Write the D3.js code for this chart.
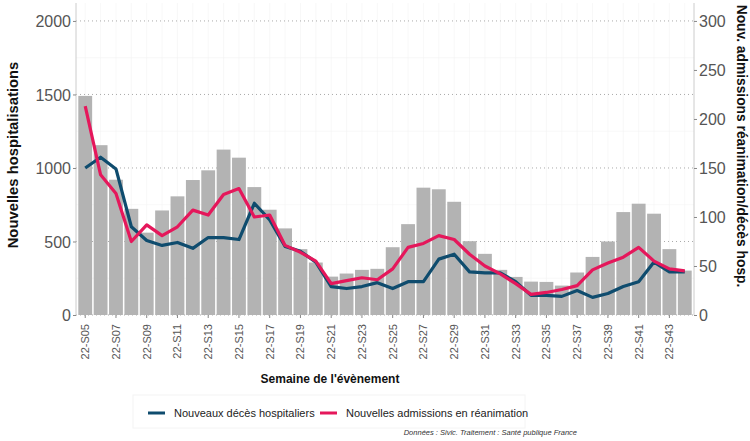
<!DOCTYPE html>
<meta charset="utf-8" />
<style>
  body {
    margin: 0;
    background: #fff;
    font-family: "Liberation Sans", Arial, "Helvetica Neue";
  }
  .tick-lab {
    fill: #555;
  }
  .axis-title {
    font-weight: bold;
    fill: #111;
  }
</style>
<body>
  <div class="container"></div>

  <script src="https://d3js.org/d3.v7.min.js"></script>
  <script>
    // semaines 22-S05 .. 22-S44
    var weeks = [];
    for (var w = 5; w <= 44; w++) {
      weeks.push("22-S" + (w < 10 ? "0" + w : w));
    }

    // nouvelles hospitalisations (axe gauche)
    var hospit = [
      1490, 1155, 920, 722, 560, 711, 807, 918, 984, 1125,
      1070, 870, 716, 589, 448, 357, 261, 282, 307, 314,
      461, 618, 866, 855, 770, 502, 416, 307, 259, 227,
      225, 200, 289, 395, 500, 700, 757, 689, 448, 302
    ];

    // nouvelles admissions en réanimation (axe droit)
    var rea = [
      213, 143, 124, 75, 92, 81, 90, 107, 102, 123,
      129, 100, 102, 71, 64, 55, 32, 35, 38, 36,
      47, 69, 73, 81, 77, 62, 50, 42, 32, 21,
      23, 26, 30, 46, 53, 59, 69, 55, 47, 45
    ];

    // nouveaux décès hospitaliers (axe droit)
    var deces = [
      150, 161, 149, 90, 76, 71, 74, 68, 79, 79,
      77, 114, 97, 70, 65, 54, 29, 27, 29, 33,
      27, 34, 34, 57, 62, 44, 43, 43, 34, 20,
      20, 19, 25, 18, 22, 29, 34, 54, 44, 44
    ];

    var leftTicks = [0, 500, 1000, 1500, 2000];
    var rightTicks = [0, 50, 100, 150, 200, 250, 300];
    var labelWeeks = weeks.filter(function (d, i) {
      return i % 2 === 0;
    });

    var colBlue = "#0f4c6e",
      colPink = "#e5175b",
      colBar = "#b3b3b3";

    var W = 750,
      H = 441;
    var pLeft = 76,
      pRight = 694,
      pTop = 3,
      pBottom = 315;

    var svg = d3
      .select(".container")
      .append("svg")
      .attr("width", W)
      .attr("height", H);

    var x = d3
      .scaleBand()
      .domain(weeks)
      .range([pLeft, pRight])
      .paddingInner(0.1)
      .paddingOuter(0.15);

    var y = d3.scaleLinear().domain([0, 2122]).range([pBottom, pTop]);
    var y2 = d3.scaleLinear().domain([0, 2122 * 0.15]).range([pBottom, pTop]);

    function cx(d) {
      return x(d) + x.bandwidth() / 2;
    }

    // grille fine
    svg
      .append("g")
      .selectAll("line")
      .data(weeks)
      .enter()
      .append("line")
      .attr("x1", cx)
      .attr("x2", cx)
      .attr("y1", pTop)
      .attr("y2", pBottom)
      .attr("stroke", "#f3f3f3")
      .attr("stroke-width", 0.6);

    svg
      .append("g")
      .selectAll("line")
      .data([250, 750, 1250, 1750])
      .enter()
      .append("line")
      .attr("x1", pLeft)
      .attr("x2", pRight)
      .attr("y1", function (d) { return y(d); })
      .attr("y2", function (d) { return y(d); })
      .attr("stroke", "#f3f3f3")
      .attr("stroke-width", 0.6);

    // grille pointillée
    svg
      .append("g")
      .selectAll("line")
      .data(leftTicks)
      .enter()
      .append("line")
      .attr("x1", pLeft)
      .attr("x2", pRight)
      .attr("y1", function (d) { return y(d); })
      .attr("y2", function (d) { return y(d); })
      .attr("stroke", "#aaa")
      .attr("stroke-width", 1)
      .attr("stroke-dasharray", "1,3");

    // barres
    svg
      .append("g")
      .selectAll("rect")
      .data(hospit)
      .enter()
      .append("rect")
      .attr("x", function (d, i) { return x(weeks[i]); })
      .attr("width", x.bandwidth())
      .attr("y", function (d) { return y(d); })
      .attr("height", function (d) { return y(0) - y(d); })
      .attr("fill", colBar);

    // courbes
    var line = d3
      .line()
      .x(function (d, i) { return cx(weeks[i]); })
      .y(function (d) { return y2(d); });

    svg
      .append("path")
      .datum(deces)
      .attr("d", line)
      .attr("fill", "none")
      .attr("stroke", colBlue)
      .attr("stroke-width", 3.2)
      .attr("stroke-linejoin", "round");

    svg
      .append("path")
      .datum(rea)
      .attr("d", line)
      .attr("fill", "none")
      .attr("stroke", colPink)
      .attr("stroke-width", 3.2)
      .attr("stroke-linejoin", "round");

    // axes
    var axL = svg
      .append("g")
      .attr("transform", "translate(" + pLeft + ",0)")
      .call(
        d3.axisLeft(y).tickValues(leftTicks).tickFormat(d3.format("d"))
          .tickSize(3).tickPadding(2)
      );
    axL.select(".domain").attr("stroke", "#ccc").attr("d", "M0," + pTop + "V" + pBottom);
    axL.selectAll(".tick line").attr("stroke", "#888");
    axL
      .selectAll(".tick text")
      .attr("class", "tick-lab")
      .style("font-size", "16px")
      .attr("dy", "0.36em");

    var axR = svg
      .append("g")
      .attr("transform", "translate(" + pRight + ",0)")
      .call(d3.axisRight(y2).tickValues(rightTicks).tickSize(3).tickPadding(2));
    axR.select(".domain").attr("stroke", "#ccc").attr("d", "M0," + pTop + "V" + pBottom);
    axR.selectAll(".tick line").attr("stroke", "#888");
    axR
      .selectAll(".tick text")
      .attr("class", "tick-lab")
      .style("font-size", "16px")
      .attr("dy", "0.36em");

    var axB = svg
      .append("g")
      .attr("transform", "translate(0," + pBottom + ")")
      .call(d3.axisBottom(x).tickValues(labelWeeks).tickSize(3).tickPadding(2));
    axB.select(".domain").remove();
    axB.selectAll(".tick line").attr("stroke", "#888");
    axB
      .selectAll(".tick text")
      .attr("class", "tick-lab")
      .style("font-size", "11px")
      .attr("text-anchor", "end")
      .attr("transform", "rotate(-90)")
      .attr("x", -9)
      .attr("y", 0)
      .attr("dy", "0.35em");

    // titres d'axes
    svg
      .append("text")
      .attr("class", "axis-title")
      .attr("text-anchor", "middle")
      .attr("transform", "translate(18,155) rotate(-90)")
      .style("font-size", "14.8px")
      .text("Nouvelles hospitalisations");

    svg
      .append("text")
      .attr("class", "axis-title")
      .attr("text-anchor", "middle")
      .attr("transform", "translate(737,146) rotate(90)")
      .style("font-size", "13.8px")
      .text("Nouv. admissions réanimation/décès hosp.");

    svg
      .append("text")
      .attr("class", "axis-title")
      .attr("text-anchor", "middle")
      .attr("x", 330)
      .attr("y", 383)
      .style("font-size", "12px")
      .text("Semaine de l'évènement");

    // légende
    svg
      .append("rect")
      .attr("x", 133)
      .attr("y", 395)
      .attr("width", 392)
      .attr("height", 33)
      .attr("fill", "#fff")
      .attr("stroke", "#f4f4f4");

    var legendItems = [
      { label: "Nouveaux décès hospitaliers", color: colBlue, x: 148 },
      { label: "Nouvelles admissions en réanimation", color: colPink, x: 320 }
    ];

    var lg = svg
      .append("g")
      .selectAll("g")
      .data(legendItems)
      .enter()
      .append("g")
      .attr("transform", function (d) {
        return "translate(" + d.x + ",413)";
      });

    lg.append("line")
      .attr("x1", 0)
      .attr("x2", 17)
      .attr("stroke", function (d) { return d.color; })
      .attr("stroke-width", 3);

    lg.append("text")
      .attr("x", 26)
      .attr("dy", "0.36em")
      .style("font-size", "11px")
      .attr("fill", "#222")
      .text(function (d) { return d.label; });

    // source
    svg
      .append("text")
      .attr("text-anchor", "end")
      .attr("x", 577)
      .attr("y", 435)
      .style("font-size", "7.5px")
      .style("font-style", "italic")
      .attr("fill", "#333")
      .text("Données : Sivic. Traitement : Santé publique France");
  </script>
</body>
